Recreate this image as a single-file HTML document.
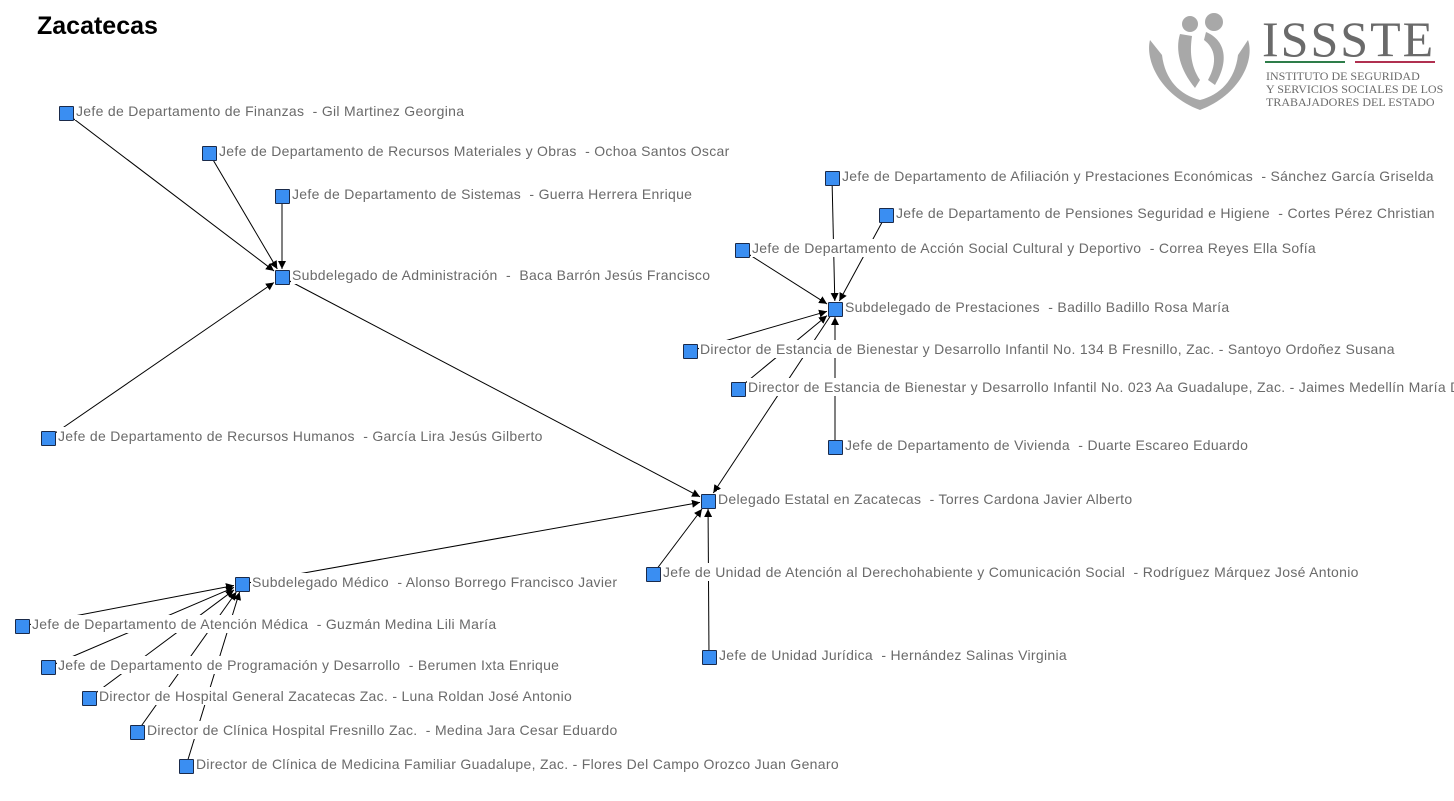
<!DOCTYPE html>
<html><head><meta charset="utf-8"><style>
body{margin:0;width:1454px;height:801px;background:#fff;position:relative;overflow:hidden;font-family:"Liberation Sans",sans-serif}
svg{position:absolute;left:0;top:0}
.l{position:absolute;background:#fff;color:#6a6a6a;font-size:14px;line-height:18px;white-space:pre;padding:0 2px 0 1px;letter-spacing:0.3px}
.n{position:absolute;width:13px;height:13px;background:#3a8ef2;border:1px solid #1a2a4a;border-radius:1px}
h1{position:absolute;left:37px;top:12px;margin:0;font-size:25px;font-weight:bold;color:#000}
</style></head><body>
<h1>Zacatecas</h1>
<svg width="1454" height="801">
<defs><marker id="a" viewBox="0 0 10 10" refX="10" refY="5" markerWidth="8" markerHeight="8" orient="auto" markerUnits="userSpaceOnUse"><path d="M0,0L10,5L0,10z" fill="#000"/></marker></defs>
<g stroke="#000" stroke-width="1" marker-end="url(#a)" id="e"></g>
<g fill="#a8a8a8">
<path d="M1150,40 C1145,60 1160,95 1200,110 C1240,95 1255,60 1248,40 L1238,55 C1235,80 1220,95 1200,100 C1180,95 1165,80 1162,55 Z"/>
<circle cx="1190" cy="24" r="8"/><circle cx="1214" cy="22" r="9"/>
<path d="M1180,34 C1175,50 1180,70 1195,88 L1200,80 C1190,65 1190,50 1192,36 Z"/>
<path d="M1206,32 C1225,40 1230,60 1215,85 L1208,80 C1218,62 1215,48 1204,40 Z"/>
</g>
<text x="1262" y="56" font-family="Liberation Serif,serif" font-size="50" fill="#6a6a6a" letter-spacing="2">ISSSTE</text>
<rect x="1265" y="61" width="80" height="2" fill="#2e7d4a"/><rect x="1355" y="61" width="80" height="2" fill="#b03050"/>
<g font-family="Liberation Serif,serif" font-size="12" fill="#6a6a6a"><text x="1266" y="80">INSTITUTO DE SEGURIDAD</text><text x="1266" y="93">Y SERVICIOS SOCIALES DE LOS</text><text x="1266" y="106">TRABAJADORES DEL ESTADO</text></g>
</svg>
<div id="c"></div>
<script>
const N={fin:[66,113,"Jefe de Departamento de Finanzas  - Gil Martinez Georgina"],
rm:[209,153,"Jefe de Departamento de Recursos Materiales y Obras  - Ochoa Santos Oscar"],
sis:[282,196,"Jefe de Departamento de Sistemas  - Guerra Herrera Enrique"],
sa:[282,277,"Subdelegado de Administración  -  Baca Barrón Jesús Francisco"],
rh:[48,438,"Jefe de Departamento de Recursos Humanos  - García Lira Jesús Gilberto"],
del:[708,501,"Delegado Estatal en Zacatecas  - Torres Cardona Javier Alberto"],
af:[832,178,"Jefe de Departamento de Afiliación y Prestaciones Económicas  - Sánchez García Griselda"],
pen:[886,215,"Jefe de Departamento de Pensiones Seguridad e Higiene  - Cortes Pérez Christian"],
acc:[742,250,"Jefe de Departamento de Acción Social Cultural y Deportivo  - Correa Reyes Ella Sofía"],
sp:[835,309,"Subdelegado de Prestaciones  - Badillo Badillo Rosa María"],
e134:[690,351,"Director de Estancia de Bienestar y Desarrollo Infantil No. 134 B Fresnillo, Zac. - Santoyo Ordoñez Susana"],
e023:[738,389,"Director de Estancia de Bienestar y Desarrollo Infantil No. 023 Aa Guadalupe, Zac. - Jaimes Medellín María Dolores"],
viv:[835,447,"Jefe de Departamento de Vivienda  - Duarte Escareo Eduardo"],
ad:[653,574,"Jefe de Unidad de Atención al Derechohabiente y Comunicación Social  - Rodríguez Márquez José Antonio"],
jur:[709,657,"Jefe de Unidad Jurídica  - Hernández Salinas Virginia"],
sm:[242,584,"Subdelegado Médico  - Alonso Borrego Francisco Javier"],
am:[22,626,"Jefe de Departamento de Atención Médica  - Guzmán Medina Lili María"],
pr:[48,667,"Jefe de Departamento de Programación y Desarrollo  - Berumen Ixta Enrique"],
hg:[89,698,"Director de Hospital General Zacatecas Zac. - Luna Roldan José Antonio"],
cf:[137,732,"Director de Clínica Hospital Fresnillo Zac.  - Medina Jara Cesar Eduardo"],
mf:[186,766,"Director de Clínica de Medicina Familiar Guadalupe, Zac. - Flores Del Campo Orozco Juan Genaro"]};
const E=[["fin","sa"],["rm","sa"],["sis","sa"],["rh","sa"],["sa","del"],["af","sp"],["pen","sp"],["acc","sp"],["e134","sp"],["e023","sp"],["viv","sp"],["sp","del"],["ad","del"],["jur","del"],["sm","del"],["am","sm"],["pr","sm"],["hg","sm"],["cf","sm"],["mf","sm"]];
const g=document.getElementById('e');let s='';
for(const[a,b]of E){const[x1,y1]=N[a],[x2,y2]=N[b];const dx=x2-x1,dy=y2-y1;const t=Math.max(Math.abs(dx),Math.abs(dy));const k=(t-8)/t;s+=`<line x1="${x1}" y1="${y1}" x2="${x1+dx*k}" y2="${y1+dy*k}"/>`;}
g.innerHTML=s;
let h='';for(const k in N){const[x,y,t]=N[k];h+=`<div class="l" style="left:${x+9}px;top:${y-11}px">${t}</div><div class="n" style="left:${x-7}px;top:${y-7}px"></div>`;}
document.getElementById('c').innerHTML=h;
</script>
</body></html>
